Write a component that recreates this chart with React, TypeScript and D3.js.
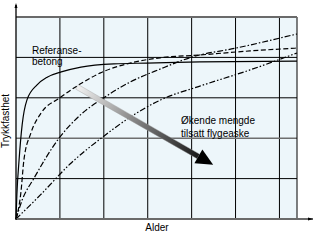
import React from 'react';
import * as d3 from 'd3';

// age (grid units) / strength (grid units)
const refAge = [0, 0.02, 0.07, 0.14, 0.25, 0.48, 0.71, 1.03, 1.48, 2.23, 2.98, 4.19, 6.4];
const refStrength = [0, 0.6, 1.46, 2.33, 2.95, 3.32, 3.51, 3.64, 3.76, 3.84, 3.86, 3.89, 3.91];

const ash1Age = [0, 0.11, 0.18, 0.34, 0.57, 1.0, 1.46, 1.91, 2.6, 3.28, 4.19, 5.33, 6.4];
const ash1Strength = [0, 0.64, 1.46, 2.13, 2.62, 3.0, 3.34, 3.61, 3.86, 3.99, 4.06, 4.16, 4.23];

const ash2Age = [0, 0.14, 0.41, 0.98, 1.46, 2.0, 2.6, 3.28, 4.01, 5.01, 6.4];
const ash2Strength = [0, 0.47, 1.01, 2.0, 2.57, 3.0, 3.39, 3.71, 4.01, 4.23, 4.58];

const ash3Age = [0, 0.55, 1.23, 2.0, 2.6, 3.3, 4.19, 5.33, 6.4];
const ash3Strength = [0, 0.59, 1.36, 2.05, 2.52, 2.95, 3.29, 3.69, 4.11];

const xGrid = [1, 2, 3, 4, 5, 6];
const yGrid = [1, 2, 3, 4];

const refLabel = ['Referanse-', 'betong'];
const ashLabel = ['Økende mengde', 'tilsatt flygeaske'];
const xTitle = 'Alder';
const yTitle = 'Trykkfasthet';

// arrow start / tip in data units
const arrowFrom = [1.39, 3.27];
const arrowTo = [4.49, 1.34];

const W = 316;
const H = 245;
const left = 16, right = 297, top = 17, bottom = 219;
const font = 'Liberation Sans, Arial, Helvetica, sans-serif';

const zip = (a: number[], b: number[]) => a.map((v, i) => [v, b[i]] as [number, number]);

export default function App() {
  const x = d3.scaleLinear().domain([0, 6.4]).range([left, right]);
  const y = d3.scaleLinear().domain([0, 5]).range([bottom, top]);
  const line = d3.line<[number, number]>()
    .x(d => x(d[0]))
    .y(d => y(d[1]))
    .curve(d3.curveMonotoneX);

  const series = [
    { data: zip(refAge, refStrength), dash: undefined },
    { data: zip(ash1Age, ash1Strength), dash: '5,2.5' },
    { data: zip(ash2Age, ash2Strength), dash: '6,2,1.5,2' },
    { data: zip(ash3Age, ash3Strength), dash: '6,2,1.5,2,1.5,2' },
  ];

  // arrow geometry
  const x0 = x(arrowFrom[0]), y0 = y(arrowFrom[1]);
  const x1 = x(arrowTo[0]), y1 = y(arrowTo[1]);
  const len = Math.hypot(x1 - x0, y1 - y0);
  const ux = (x1 - x0) / len, uy = (y1 - y0) / len;
  const nx = -uy, ny = ux;
  const headLen = 17, headW = 8, shaftW = 2.6;
  const bx = x1 - ux * headLen, by = y1 - uy * headLen;
  const shaft = [
    [x0 + nx * shaftW, y0 + ny * shaftW],
    [bx + nx * shaftW, by + ny * shaftW],
    [bx - nx * shaftW, by - ny * shaftW],
    [x0 - nx * shaftW, y0 - ny * shaftW],
  ].map(p => p.join(',')).join(' ');
  const head = [
    [x1, y1],
    [bx + nx * headW, by + ny * headW],
    [bx - nx * headW, by - ny * headW],
  ].map(p => p.join(',')).join(' ');

  return (
    <svg width={W} height={H} style={{ position: 'absolute', left: 0, top: 0, background: '#fff' }}>
      <defs>
        <linearGradient id="arrowGrad" gradientUnits="userSpaceOnUse" x1={x0} y1={y0} x2={bx} y2={by}>
          <stop offset="0" stopColor="#f2f2f2" />
          <stop offset="0.45" stopColor="#8a8a8a" />
          <stop offset="1" stopColor="#1a1a1a" />
        </linearGradient>
      </defs>
      <rect x={left} y={top} width={right - left} height={bottom - top} fill="#edf6fa" />

      {xGrid.map(v => (
        <line key={'vx' + v} x1={x(v)} x2={x(v)} y1={top} y2={bottom} stroke="#000" strokeWidth={1} />
      ))}
      {yGrid.map(v => (
        <line key={'hy' + v} x1={left} x2={right} y1={y(v)} y2={y(v)}
          stroke={v === 2 ? '#6e6e6e' : '#000'} strokeWidth={v === 2 ? 1.6 : 1} />
      ))}
      <line x1={right} x2={right} y1={top} y2={bottom} stroke="#000" strokeWidth={1} />
      <line x1={left} x2={right} y1={top} y2={top} stroke="#6a6a6a" strokeWidth={2} />

      {series.map((s, i) => (
        <path key={i} d={line(s.data) || ''} fill="none" stroke="#000" strokeWidth={1.2}
          strokeDasharray={s.dash} />
      ))}

      <polygon points={shaft} fill="url(#arrowGrad)" stroke="#9a9a9a" strokeWidth={0.4} />
      <polygon points={head} fill="#000" />

      {/* axes */}
      <line x1={left} x2={313} y1={bottom} y2={bottom} stroke="#6a6a6a" strokeWidth={2} />
      <line x1={left} x2={left} y1={bottom + 1} y2={5} stroke="#000" strokeWidth={1.3} />
      <polygon points={`${left},3 ${left - 1.5},8 ${left + 1.5},8`} fill="#000" />
      <polygon points={`313,${bottom} 308,${bottom - 1.5} 308,${bottom + 1.5}`} fill="#000" />

      <g fontFamily={font} fontSize={10} fill="#000">
        {refLabel.map((t, i) => (
          <text key={t} x={32} y={54 + i * 11}>{t}</text>
        ))}
        {ashLabel.map((t, i) => (
          <text key={t} x={181} y={124 + i * 13}>{t}</text>
        ))}
        <text x={157} y={231} textAnchor="middle">{xTitle}</text>
        <text transform="translate(9,121) rotate(-90)" textAnchor="middle">{yTitle}</text>
      </g>
    </svg>
  );
}
